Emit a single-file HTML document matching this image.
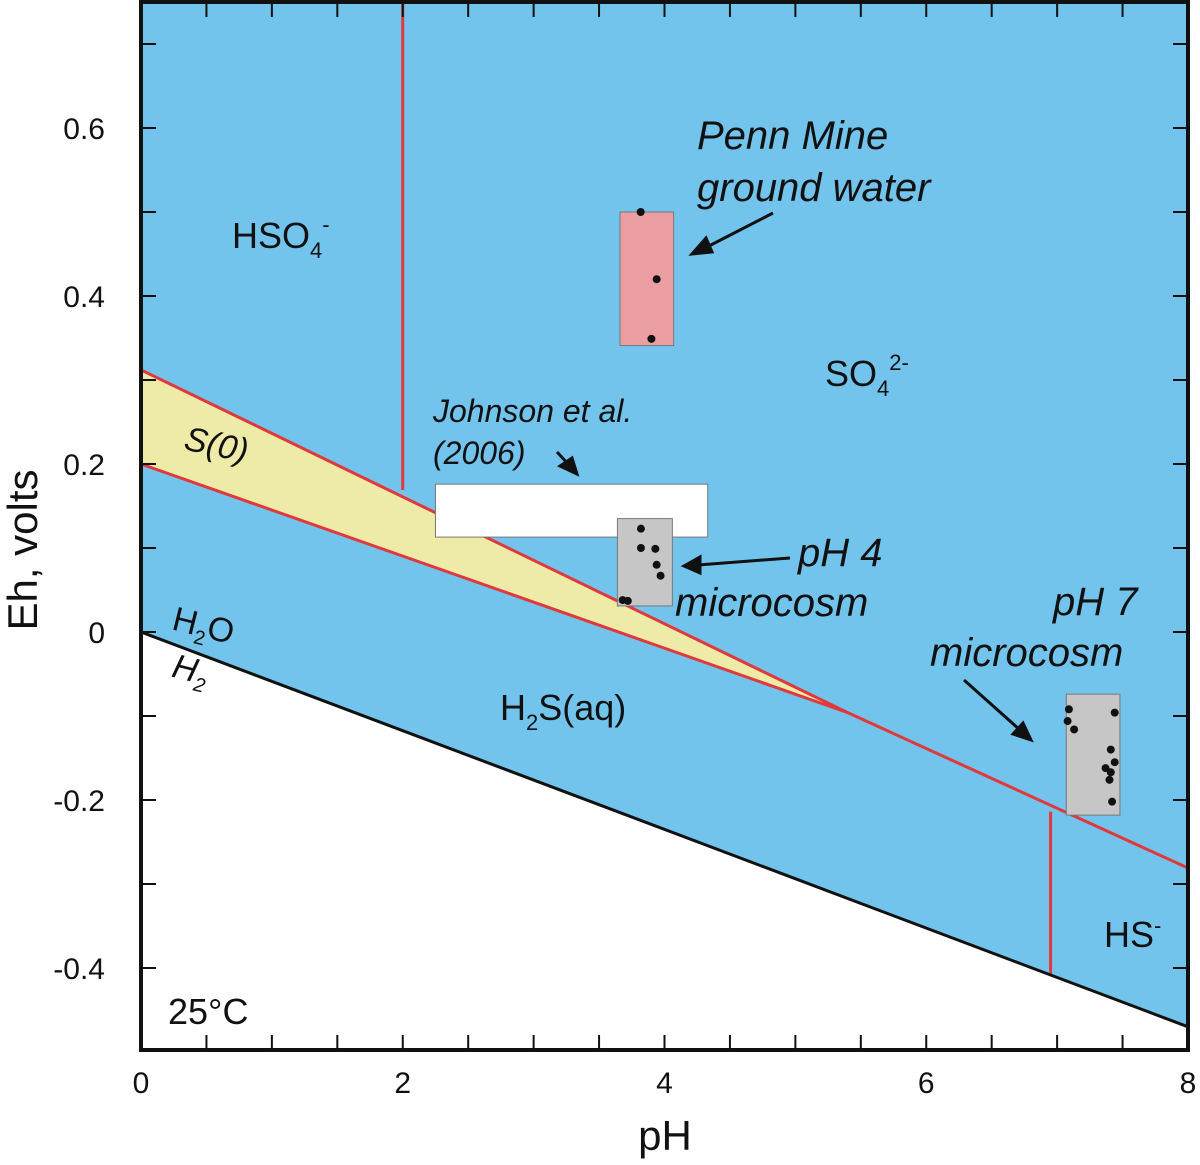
<!DOCTYPE html>
<html><head><meta charset="utf-8"><style>
html,body{margin:0;padding:0;background:#fff}
svg{display:block;font-family:"Liberation Sans",sans-serif}
</style></head><body>
<svg id="c" width="1200" height="1165" viewBox="0 0 1200 1165" xmlns="http://www.w3.org/2000/svg"></svg>
<script>
// data
const xTicks = [0, 2, 4, 6, 8];
const yTicks = [0.6, 0.4, 0.2, 0, -0.2, -0.4];
const waterLine = [[0, 0], [8, -0.470]];
const s0Upper = [[0, 0.312], [5.4, -0.096], [8, -0.281]];
const s0Lower = [[0, 0.200], [5.4, -0.096]];
const hso4Boundary = [[2, 0.75], [2, 0.169]];
const hsBoundary = [[6.95, -0.214], [6.95, -0.408]];
const pennBox = [3.66, 4.07, 0.500, 0.341];
const pennDots = [[3.818, 0.500], [3.94, 0.420], [3.90, 0.349]];
const ph4Box = [3.64, 4.06, 0.135, 0.031];
const ph4Dots = [[3.82, 0.123], [3.82, 0.100], [3.93, 0.099], [3.94, 0.080], [3.97, 0.067], [3.68, 0.038], [3.72, 0.037]];
const ph7Box = [7.07, 7.48, -0.074, -0.218];
const ph7Dots = [[7.09, -0.092], [7.08, -0.106], [7.13, -0.116], [7.44, -0.096], [7.41, -0.140], [7.44, -0.155], [7.37, -0.162], [7.41, -0.167], [7.40, -0.176], [7.42, -0.202]];
const johnsonBox = [2.25, 4.33, 0.176, 0.113];

const X0=141, X1=1188, Y0=2, Y1=1050;
const xs = v => X0 + (v-0)/(8-0)*(X1-X0);
const ys = v => 632 - v*840;
const svg = document.getElementById('c');
const NS='http://www.w3.org/2000/svg';
function mk(tag, attrs, parent){const e=document.createElementNS(NS,tag);for(const k in attrs)e.setAttribute(k,attrs[k]);(parent||svg).appendChild(e);return e;}
const pts = a => a.map(p=>xs(p[0])+','+ys(p[1])).join(' ');

// blue field
let e=mk('rect',{x:X0,y:Y0,width:X1-X0,height:Y1-Y0,fill:'#73c4ed'});


// white below water line
e=mk('polygon',{points:pts([waterLine[0],waterLine[1]])+' '+X1+','+Y1+' '+X0+','+Y1,fill:'#fff'});


// S(0) field
e=mk('polygon',{points:pts([s0Upper[0],s0Upper[1],s0Lower[0]]),fill:'#eeeba9'});


// red lines
const red='#e0393c';
[[s0Upper,'so4-h2s-boundary'],[s0Lower,'s0-lower-boundary'],[hso4Boundary,'hso4-so4-boundary'],[hsBoundary,'h2s-hs-boundary']].forEach(([l,n])=>{
  const p=mk('polyline',{points:pts(l),fill:'none',stroke:red,'stroke-width':3});
  
  
});
e=mk('polyline',{points:pts(waterLine),fill:'none',stroke:'#111','stroke-width':3});



function box(b,fill,name){const r=mk('rect',{x:xs(b[0]),y:ys(b[2]),width:xs(b[1])-xs(b[0]),height:ys(b[3])-ys(b[2]),fill:fill,stroke:'#777','stroke-width':1});
  
  }
box(johnsonBox,'#fff','johnson-2006-box');
box(pennBox,'#eb9ea2','penn-mine-box');
box(ph4Box,'#c6c6c6','ph4-microcosm-box');
box(ph7Box,'#c6c6c6','ph7-microcosm-box');
function dots(d,name){d.forEach(p=>{const c=mk('circle',{cx:xs(p[0]),cy:ys(p[1]),r:4,fill:'#111'});
  
  });}
dots(pennDots,'penn-mine-point');dots(ph4Dots,'ph4-point');dots(ph7Dots,'ph7-point');

// frame and ticks
e=mk('rect',{x:X0,y:Y0,width:X1-X0,height:Y1-Y0,fill:'none',stroke:'#111','stroke-width':4});


for(let i=1;i<16;i++){const v=i*0.5,x=xs(v);
  mk('line',{x1:x,y1:Y1,x2:x,y2:Y1-15,stroke:'#111','stroke-width':2});
  mk('line',{x1:x,y1:Y0,x2:x,y2:Y0+15,stroke:'#111','stroke-width':2});}
for(let i=-4;i<=7;i++){const y=ys(i*0.1);
  mk('line',{x1:X0,y1:y,x2:X0+15,y2:y,stroke:'#111','stroke-width':2});
  mk('line',{x1:X1,y1:y,x2:X1-15,y2:y,stroke:'#111','stroke-width':2});}
xTicks.forEach(v=>{const t=mk('text',{x:xs(v),y:1093,'font-size':30,'text-anchor':'middle',fill:'#111'});t.textContent=v;
  
  });
yTicks.forEach(v=>{const t=mk('text',{x:105,y:ys(v)+11,'font-size':30,'text-anchor':'end',fill:'#111'});t.textContent=v;
  
  });
</script>
<svg style="position:absolute;left:0;top:0" width="1200" height="1165" font-family="Liberation Sans, sans-serif" fill="#111">
<text x="665" y="1150" font-size="42" text-anchor="middle">pH</text>
<text transform="translate(37,550) rotate(-90)" font-size="42" text-anchor="middle">Eh, volts</text>
<text x="168" y="1024" font-size="36">25°C</text>
<text x="232" y="248" font-size="36">HSO<tspan font-size="22" dy="10">4</tspan><tspan font-size="22" dy="-26">-</tspan></text>
<text x="825" y="386" font-size="36">SO<tspan font-size="22" dy="10">4</tspan><tspan font-size="22" dy="-26">2-</tspan></text>
<text x="182" y="456" font-size="34" font-style="italic" transform="rotate(12 215 456)">S(0)</text>
<text x="500" y="720" font-size="36">H<tspan font-size="22" dy="10">2</tspan><tspan dy="-10">S(aq)</tspan></text>
<text x="1104" y="947" font-size="36">HS<tspan font-size="22" dy="-14">-</tspan></text>
<text x="170" y="634" font-size="34" transform="rotate(14 190 634)">H<tspan font-size="20" dy="8">2</tspan><tspan dy="-8">O</tspan></text>
<text x="170" y="680" font-size="34" font-style="italic" transform="rotate(14 185 680)">H<tspan font-size="20" dy="8">2</tspan></text>
<text font-size="40" font-style="italic"><tspan x="697" y="149">Penn Mine</tspan><tspan x="697" y="201">ground water</tspan></text>
<text font-size="32" font-style="italic"><tspan x="433" y="422">Johnson et al.</tspan><tspan x="433" y="464">(2006)</tspan></text>
<text font-size="40" font-style="italic"><tspan x="798" y="566">pH 4</tspan><tspan x="675" y="616">microcosm</tspan></text>
<text font-size="40" font-style="italic"><tspan x="1053" y="615">pH 7</tspan><tspan x="930" y="666">microcosm</tspan></text>
<g stroke="#111" stroke-width="3" fill="#111">
<line x1="773" y1="213" x2="705" y2="248"/><polygon points="692,254 706,238 712,252"/>
<line x1="557" y1="452" x2="570" y2="466"/><polygon points="577,474 560,466 572,458"/>
<line x1="790" y1="558" x2="698" y2="565"/><polygon points="684,566 700,557 700,573"/>
<line x1="964" y1="680" x2="1020" y2="730"/><polygon points="1031,740 1013,734 1023,723"/>
</g>
</svg>
</body></html>
